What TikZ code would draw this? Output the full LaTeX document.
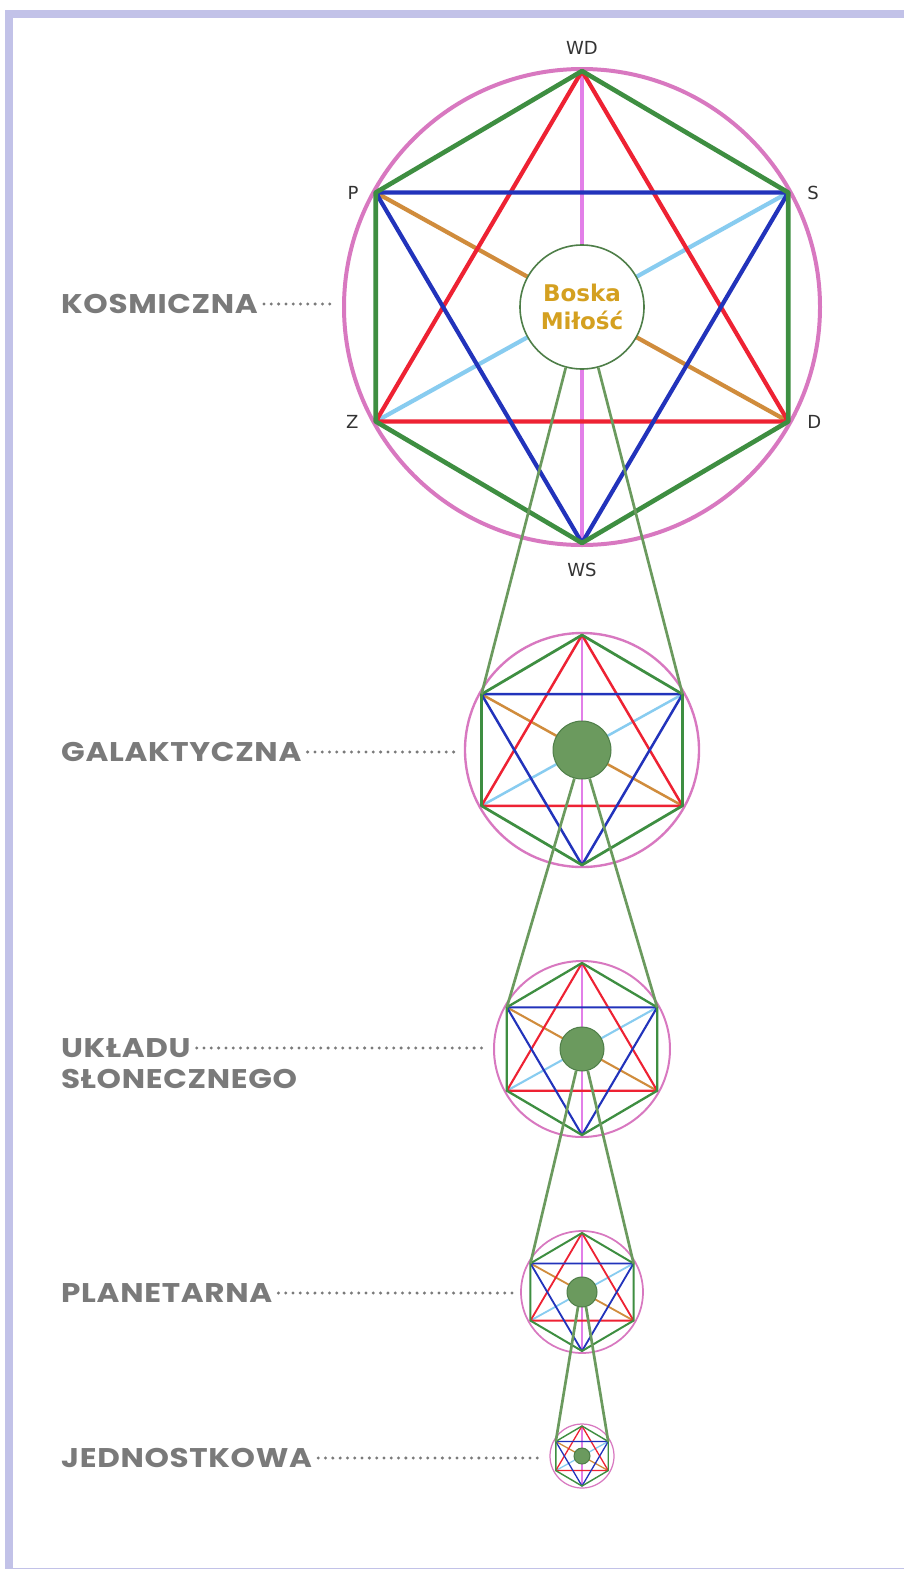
\documentclass[tikz,border=0pt]{standalone}
\usepackage{fontspec}
\setmainfont{DejaVu Sans}
\newfontfamily\lblfont{Poppins}[FakeStretch=1.15, LetterSpace=2.5]
\usetikzlibrary{positioning}

\definecolor{framelav}{HTML}{C2C2E8}
\definecolor{hexgreen}{HTML}{3E8E41}
\definecolor{starred}{HTML}{EE2233}
\definecolor{starblue}{HTML}{2233BB}
\definecolor{axisviolet}{HTML}{E27FE8}
\definecolor{diagorange}{HTML}{D08C3C}
\definecolor{diagsky}{HTML}{88CCF0}
\definecolor{ringpink}{HTML}{D878C0}
\definecolor{stemgreen}{HTML}{6B9A5E}
\definecolor{coreedge}{HTML}{4E7E48}
\definecolor{lovegold}{HTML}{D4A020}
\definecolor{lblgray}{HTML}{7A7A7A}
\definecolor{vtxgray}{HTML}{333333}

\tikzset{
  lbl/.style = {anchor=west, inner sep=0pt, text=lblgray,
    font=\lblfont\bfseries\fontsize{27}{27}\selectfont},
  leader/.style = {lblgray, line width=3.3pt, line cap=round,
    dash pattern=on 0pt off 7.3pt, shorten <=6pt, shorten >=8pt},
  ring/.style = {circle, draw=ringpink, inner sep=0pt},
  vtx/.style = {inner sep=0pt, text=vtxgray, font=\fontsize{18}{18}\selectfont},
  stem/.style = {stemgreen, line width=2.7pt},
  core/.style = {circle, fill=stemgreen, draw=coreedge, line width=1pt, inner sep=0pt},
}

\begin{document}
\begin{tikzpicture}[x=1pt, y=-1pt]
  \useasboundingbox (0,0) rectangle (904,1569);
  \fill[white] (0,0) rectangle (904,1569);
  \draw[framelav, line width=8pt] (9,14) rectangle (940,1572);

  % the five hexagrams
  \foreach \l/\cy/\R/\w in {kosm/307/236/4.2, gal/750/115/2.5, ukl/1049/86/2.1,
                            plan/1292/59/1.8, jedn/1456/30/1.3} {
    \coordinate (\l-wd) at (582, \cy-\R);
    \coordinate (\l-s) at (582+0.874*\R, \cy-0.485*\R);
    \coordinate (\l-d) at (582+0.874*\R, \cy+0.485*\R);
    \coordinate (\l-ws) at (582, \cy+\R);
    \coordinate (\l-z) at (582-0.874*\R, \cy+0.485*\R);
    \coordinate (\l-p) at (582-0.874*\R, \cy-0.485*\R);
    \node[ring, minimum size=2*\R+4, line width=0.95*\w] (\l-ring) at (582, \cy) {};
    \draw[axisviolet, line width=\w] (\l-wd) -- (\l-ws);
    \draw[diagorange, line width=\w] (\l-p) -- (\l-d);
    \draw[diagsky, line width=\w] (\l-z) -- (\l-s);
    \draw[starred, line width=\w, line join=round] (\l-wd) -- (\l-d) -- (\l-z) -- cycle;
    \draw[starblue, line width=\w, line join=round] (\l-p) -- (\l-s) -- (\l-ws) -- cycle;
    \draw[hexgreen, line width=1.1*\w, line join=round]
      (\l-wd) -- (\l-s) -- (\l-d) -- (\l-ws) -- (\l-z) -- (\l-p) -- cycle;
  }

  \node[circle, draw=coreedge, fill=white, line width=1.6pt, minimum size=124pt,
        inner sep=0pt, align=center, text=lovegold,
        font=\bfseries\fontsize{23}{28}\selectfont] (kosm-core) at (582,307) {Boska\\Miłość};
  \node[core, minimum size=58pt] (gal-core) at (582,750) {};
  \node[core, minimum size=44pt] (ukl-core) at (582,1049) {};
  \node[core, minimum size=30pt] (plan-core) at (582,1292) {};
  \node[core, minimum size=16pt] (jedn-core) at (582,1456) {};

  % links from one centre to the next level
  \foreach \a/\b in {kosm/gal, gal/ukl, ukl/plan, plan/jedn} {
    \draw[stem] (\a-core.255) -- (\b-p);
    \draw[stem] (\a-core.285) -- (\b-s);
  }

  \node[vtx, above=16pt of kosm-wd] (wd-lbl) {WD};
  \node[vtx, below=20pt of kosm-ws] (ws-lbl) {WS};
  \node[vtx, left=17pt of kosm-p] (p-lbl) {P};
  \node[vtx, right=19pt of kosm-s] (s-lbl) {S};
  \node[vtx, left=17pt of kosm-z] (z-lbl) {Z};
  \node[vtx, right=19pt of kosm-d] (d-lbl) {D};

  \node[lbl] (kosm-lbl) at (61,304) {KOSMICZNA};
  \node[lbl] (gal-lbl) at (61,752) {GALAKTYCZNA};
  \node[lbl] (ukl-lbl) at (61,1048) {UKŁADU};
  \node[lbl, below=11pt of ukl-lbl.south west, anchor=north west] (ukl-lbl2) {SŁONECZNEGO};
  \node[lbl] (plan-lbl) at (61,1293) {PLANETARNA};
  \node[lbl] (jedn-lbl) at (61,1458) {JEDNOSTKOWA};

  \foreach \l in {kosm, gal, ukl, plan, jedn}
    \draw[leader] (\l-lbl.east) -- (\l-lbl.east -| \l-ring.west);
\end{tikzpicture}
\end{document}
